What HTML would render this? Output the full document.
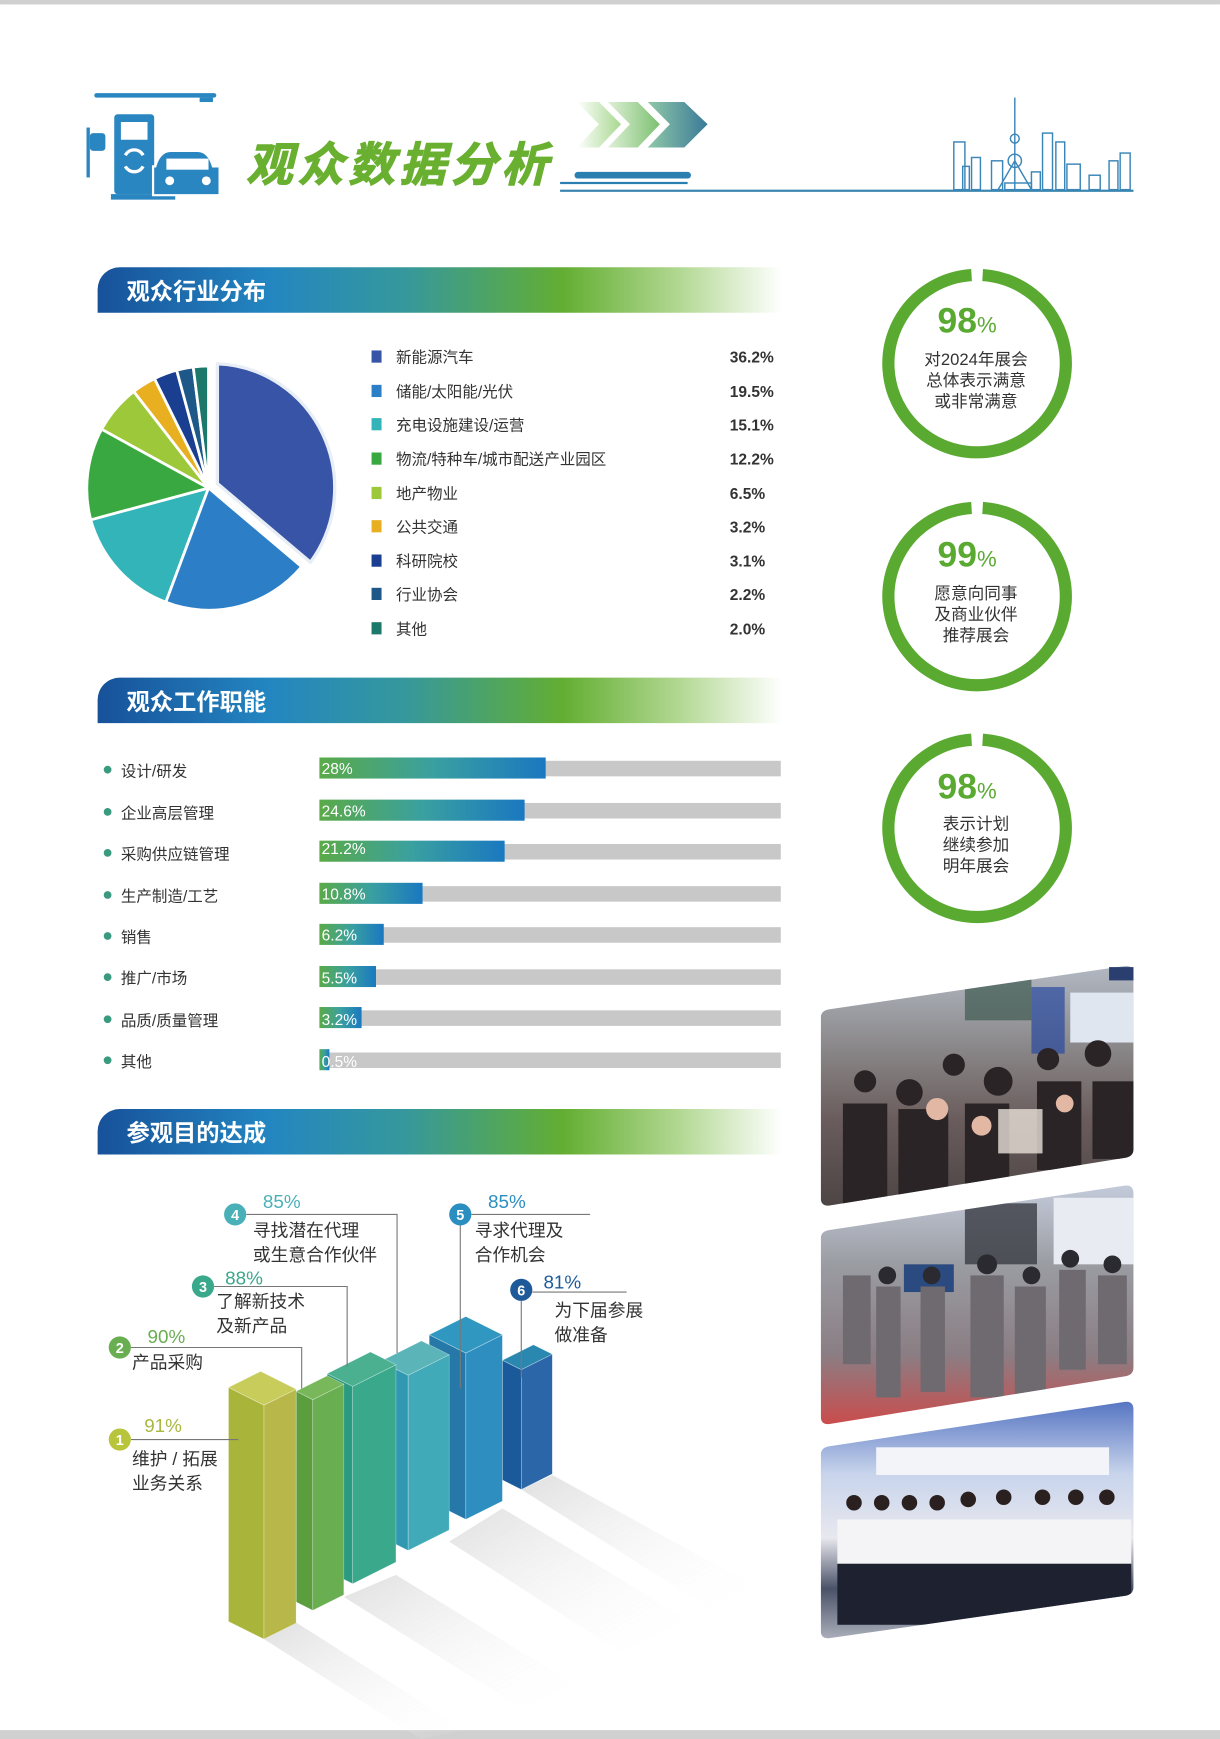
<!DOCTYPE html>
<html><head><meta charset="utf-8"><style>
html,body{margin:0;padding:0;background:#fff}
svg{display:block}
text{font-family:"Liberation Sans","Noto Sans CJK SC",sans-serif}
</style></head><body>
<svg width="1220" height="1739" viewBox="0 0 1100 1568" xmlns="http://www.w3.org/2000/svg">
<defs>
<linearGradient id="hdr" x1="0" x2="1" y1="0" y2="0">
<stop offset="0" stop-color="#17519a"/><stop offset="0.25" stop-color="#2386c0"/><stop offset="0.45" stop-color="#36989c"/><stop offset="0.68" stop-color="#63ae32"/><stop offset="0.85" stop-color="#b2d892"/><stop offset="1" stop-color="#fff"/>
</linearGradient>
<linearGradient id="bar" x1="0" x2="1" y1="0" y2="0">
<stop offset="0" stop-color="#5aaa48"/><stop offset="0.5" stop-color="#3aa0a0"/><stop offset="1" stop-color="#1a78c0"/>
</linearGradient>
<linearGradient id="chev1" x1="0" x2="1"><stop offset="0" stop-color="#fff"/><stop offset="1" stop-color="#a8d890"/></linearGradient>
<linearGradient id="chev2" x1="0" x2="1"><stop offset="0" stop-color="#e0f0d8"/><stop offset="1" stop-color="#7cc070"/></linearGradient>
<linearGradient id="chev3" x1="0" x2="1"><stop offset="0" stop-color="#90c8a8"/><stop offset="1" stop-color="#3a7a98"/></linearGradient>
<linearGradient id="p1" x1="0" x2="0" y1="0" y2="1"><stop offset="0" stop-color="#b8c0cc"/><stop offset="0.35" stop-color="#8c8a8c"/><stop offset="0.65" stop-color="#6a5c5c"/><stop offset="1" stop-color="#4c4444"/></linearGradient>
<linearGradient id="p2" x1="0" x2="0" y1="0" y2="1"><stop offset="0" stop-color="#c8d0e0"/><stop offset="0.35" stop-color="#9a9ca2"/><stop offset="0.7" stop-color="#8a7e84"/><stop offset="1" stop-color="#d04848"/></linearGradient>
<linearGradient id="p3" x1="0" x2="0" y1="0" y2="1"><stop offset="0" stop-color="#5070c0"/><stop offset="0.3" stop-color="#c8d4ec"/><stop offset="0.55" stop-color="#e8e8ee"/><stop offset="0.75" stop-color="#4a5268"/><stop offset="1" stop-color="#c4c8d0"/></linearGradient>
<linearGradient id="sh" x1="0" x2="1" y1="0" y2="1"><stop offset="0" stop-color="#d8d8d8"/><stop offset="1" stop-color="#fff" stop-opacity="0"/></linearGradient>
<clipPath id="c1"><path d="M748 910 L1014 871 Q1022 870 1022 878 V1036 Q1022 1043 1014 1044 L748 1087 Q740 1088 740 1080 V918 Q740 911 748 910Z"/></clipPath>
<clipPath id="c2"><path d="M748 1109 L1014 1069 Q1022 1068 1022 1076 V1233 Q1022 1240 1014 1241 L748 1284 Q740 1285 740 1277 V1117 Q740 1110 748 1109Z"/></clipPath>
<clipPath id="c3"><path d="M748 1304 L1014 1264 Q1022 1263 1022 1271 V1431 Q1022 1438 1014 1439 L748 1477 Q740 1478 740 1470 V1312 Q740 1305 748 1304Z"/></clipPath>
</defs>

<rect x="0" y="0" width="1100" height="4" fill="#d0d0d0"/>
<rect x="0" y="1560" width="1100" height="8" fill="#d0d0d0"/>

<!-- header icon -->
<rect x="85" y="84" width="110" height="4" rx="2" fill="#2a86c0"/>
<rect x="180" y="88" width="12" height="4" fill="#2a86c0"/>
<rect x="78" y="115" width="3" height="45" fill="#2a86c0"/>
<rect x="81" y="120" width="14" height="16" rx="3" fill="#2a86c0"/>
<rect x="103" y="103" width="36" height="72" rx="3" fill="#2a86c0"/>
<rect x="109" y="110" width="24" height="16" fill="#fff"/>
<path d="M113 140 a9 9 0 0 1 16 0 M129 150 a9 9 0 0 1 -16 0" stroke="#fff" stroke-width="3" fill="none"/>
<rect x="100" y="175" width="58" height="5" fill="#2a86c0"/>
<path d="M140 150 q4 -14 14 -14 h24 q10 0 14 14 h6 v26 h-60 v-26z" fill="#2a86c0" stroke="#fff" stroke-width="2"/>
<rect x="150" y="143" width="38" height="10" fill="#fff"/>
<circle cx="153" cy="163" r="4" fill="#fff"/><circle cx="186" cy="163" r="4" fill="#fff"/>

<text x="222" y="163" font-size="42" font-weight="bold" font-style="italic" fill="#6ab030" letter-spacing="4" stroke="#6ab030" stroke-width="1">观众数据分析</text>
<polygon points="520,92 540,92 560,112 540,133 520,133 540,112" fill="url(#chev1)"/>
<polygon points="548,92 575,92 595,112 575,133 548,133 568,112" fill="url(#chev2)"/>
<polygon points="584,92 617,92 638,112 617,133 584,133 604,112" fill="url(#chev3)"/>
<rect x="518" y="155" width="105" height="6" rx="3" fill="#2a7fb0"/>
<rect x="505" y="164" width="115" height="2" fill="#2a7fb0"/>
<rect x="505" y="171" width="517" height="2" fill="#3a86b0"/>
<g stroke="#3a86b8" fill="none" stroke-width="1.3">
<rect x="860" y="128" width="10" height="43"/><rect x="876" y="142" width="8" height="29"/><rect x="894" y="145" width="10" height="26"/>
<line x1="915" y1="88" x2="915" y2="171"/><circle cx="915" cy="125" r="4"/><circle cx="915" cy="145" r="6"/>
<polyline points="900,171 915,145 930,171"/><rect x="906" y="165" width="24" height="6"/>
<rect x="940" y="120" width="9" height="51"/><rect x="952" y="128" width="8" height="43"/><rect x="962" y="148" width="12" height="23"/>
<rect x="1000" y="145" width="8" height="26"/><rect x="1010" y="138" width="9" height="33"/>
<rect x="868" y="150" width="6" height="21"/><rect x="930" y="155" width="8" height="16"/><rect x="982" y="158" width="10" height="13"/>
</g>

<!-- section headers -->
<path d="M108 241 H705 V282 H88 V261 A20 20 0 0 1 108 241Z" fill="url(#hdr)"/>
<text x="114" y="270" font-size="21" font-weight="bold" fill="#fff">观众行业分布</text>
<path d="M108 611 H705 V652 H88 V631 A20 20 0 0 1 108 611Z" fill="url(#hdr)"/>
<text x="114" y="640" font-size="21" font-weight="bold" fill="#fff">观众工作职能</text>
<path d="M108 1000 H705 V1041 H88 V1020 A20 20 0 0 1 108 1000Z" fill="url(#hdr)"/>
<text x="114" y="1029" font-size="21" font-weight="bold" fill="#fff">参观目的达成</text>

<!-- pie -->
<g stroke="#fff" stroke-width="2.5" stroke-linejoin="round">
<path d="M188 440 L149.5 543 A110 112 0 0 1 81.8 468.7Z" fill="#32b4b8"/>
<path d="M188 440 L271.9 511 A110 112 0 0 1 149.5 543Z" fill="#2c7fc6"/>
<path d="M188 440 L81.8 468.7 A110 112 0 0 1 91.6 387Z" fill="#3aa840"/>
<path d="M188 440 L91.6 387 A110 112 0 0 1 120.6 353Z" fill="#9cc83a"/>
<path d="M188 440 L120.6 353 A110 112 0 0 1 139.3 341.4Z" fill="#e8b020"/>
<path d="M188 440 L139.3 341.4 A110 112 0 0 1 159.3 333.8Z" fill="#1a3e90"/>
<path d="M188 440 L159.3 333.8 A110 112 0 0 1 174.2 330.9Z" fill="#1d5888"/>
<path d="M188 440 L174.2 330.9 A110 112 0 0 1 188 330Z" fill="#1d786c"/>
<path d="M196 436 L196 328 A110 112 0 0 1 279.9 507Z" fill="#3854a6" stroke="#e8eef6" stroke-width="3"/>
</g>
<g font-size="14" fill="#333">
<rect x="335" y="316" width="9" height="11" fill="#3854a6"/><text x="357" y="327">新能源汽车</text>
<rect x="335" y="347" width="9" height="11" fill="#2c7fc6"/><text x="357" y="358">储能/太阳能/光伏</text>
<rect x="335" y="377" width="9" height="11" fill="#32b4b8"/><text x="357" y="388">充电设施建设/运营</text>
<rect x="335" y="408" width="9" height="11" fill="#3aa840"/><text x="357" y="419">物流/特种车/城市配送产业园区</text>
<rect x="335" y="439" width="9" height="11" fill="#9cc83a"/><text x="357" y="450">地产物业</text>
<rect x="335" y="469" width="9" height="11" fill="#e8b020"/><text x="357" y="480">公共交通</text>
<rect x="335" y="500" width="9" height="11" fill="#1a3e90"/><text x="357" y="511">科研院校</text>
<rect x="335" y="530" width="9" height="11" fill="#1d5888"/><text x="357" y="541">行业协会</text>
<rect x="335" y="561" width="9" height="11" fill="#1d786c"/><text x="357" y="572">其他</text>
</g>
<g font-size="14" fill="#333" font-weight="bold">
<text x="658" y="327">36.2%</text><text x="658" y="358">19.5%</text><text x="658" y="388">15.1%</text><text x="658" y="419">12.2%</text>
<text x="658" y="450">6.5%</text><text x="658" y="480">3.2%</text><text x="658" y="511">3.1%</text><text x="658" y="541">2.2%</text><text x="658" y="572">2.0%</text>
</g>

<!-- bars -->
<g font-size="14" fill="#333">
<g fill="#3a9a80"><circle cx="97" cy="694" r="3.5"/><circle cx="97" cy="732" r="3.5"/><circle cx="97" cy="769" r="3.5"/><circle cx="97" cy="807" r="3.5"/><circle cx="97" cy="844" r="3.5"/><circle cx="97" cy="881" r="3.5"/><circle cx="97" cy="919" r="3.5"/><circle cx="97" cy="956" r="3.5"/></g>
<text x="109" y="700">设计/研发</text><text x="109" y="738">企业高层管理</text><text x="109" y="775">采购供应链管理</text><text x="109" y="813">生产制造/工艺</text>
<text x="109" y="850">销售</text><text x="109" y="887">推广/市场</text><text x="109" y="925">品质/质量管理</text><text x="109" y="962">其他</text>
</g>
<g fill="#c8c8c8">
<rect x="288" y="686" width="416" height="14"/><rect x="288" y="724" width="416" height="14"/><rect x="288" y="761" width="416" height="14"/><rect x="288" y="799" width="416" height="14"/>
<rect x="288" y="836" width="416" height="14"/><rect x="288" y="874" width="416" height="14"/><rect x="288" y="911" width="416" height="14"/><rect x="288" y="949" width="416" height="14"/>
</g>
<g fill="url(#bar)">
<rect x="288" y="683" width="204" height="19"/><rect x="288" y="721" width="185" height="19"/><rect x="288" y="758" width="167" height="19"/><rect x="288" y="796" width="93" height="19"/>
<rect x="288" y="833" width="58" height="19"/><rect x="288" y="871" width="51" height="19"/><rect x="288" y="908" width="38" height="19"/><rect x="288" y="946" width="9" height="19"/>
</g>
<g font-size="14" fill="#fff">
<text x="290" y="698">28%</text><text x="290" y="736">24.6%</text><text x="290" y="770">21.2%</text><text x="290" y="811">10.8%</text>
<text x="290" y="848">6.2%</text><text x="290" y="887">5.5%</text><text x="290" y="924">3.2%</text><text x="290" y="962">0.5%</text>
</g>

<!-- circles -->
<g fill="none" stroke="#5aaa32" stroke-width="11">
<path d="M886 248 A80 80 0 1 1 876 248"/>
<path d="M886 458 A80 80 0 1 1 876 458"/>
<path d="M886 667 A80 80 0 1 1 876 667"/>
</g>
<g text-anchor="middle">
<text x="872" y="300" font-size="32" font-weight="bold" fill="#5aaa32">98<tspan font-size="20" font-weight="normal">%</tspan></text>
<text x="880" y="329" font-size="15" fill="#333">对2024年展会</text><text x="880" y="348" font-size="15" fill="#333">总体表示满意</text><text x="880" y="367" font-size="15" fill="#333">或非常满意</text>
<text x="872" y="511" font-size="32" font-weight="bold" fill="#5aaa32">99<tspan font-size="20" font-weight="normal">%</tspan></text>
<text x="880" y="540" font-size="15" fill="#333">愿意向同事</text><text x="880" y="559" font-size="15" fill="#333">及商业伙伴</text><text x="880" y="578" font-size="15" fill="#333">推荐展会</text>
<text x="872" y="720" font-size="32" font-weight="bold" fill="#5aaa32">98<tspan font-size="20" font-weight="normal">%</tspan></text>
<text x="880" y="748" font-size="15" fill="#333">表示计划</text><text x="880" y="767" font-size="15" fill="#333">继续参加</text><text x="880" y="786" font-size="15" fill="#333">明年展会</text>
</g>

<!-- photos -->
<g clip-path="url(#c1)">
<rect x="740" y="860" width="290" height="230" fill="url(#p1)"/>
<rect x="870" y="880" width="60" height="40" fill="#3e5a50" opacity="0.7"/>
<rect x="930" y="890" width="30" height="60" fill="#2a4aa0" opacity="0.7"/>
<rect x="965" y="895" width="57" height="45" fill="#dfe6f0"/>
<g fill="#2a2426">
<circle cx="780" cy="975" r="10"/><circle cx="820" cy="985" r="12"/><circle cx="860" cy="960" r="10"/><circle cx="900" cy="975" r="13"/><circle cx="945" cy="955" r="10"/><circle cx="990" cy="950" r="12"/>
<rect x="760" y="995" width="40" height="95"/><rect x="810" y="1000" width="45" height="90"/><rect x="870" y="995" width="40" height="90"/><rect x="935" y="975" width="40" height="80"/><rect x="985" y="975" width="37" height="70"/>
</g>
<g fill="#e2b8a4"><circle cx="845" cy="1000" r="10"/><circle cx="885" cy="1015" r="9"/><circle cx="960" cy="995" r="8"/></g>
<rect x="900" y="1000" width="40" height="40" fill="#e8e0d8" opacity="0.8"/>
</g>
<g clip-path="url(#c2)">
<rect x="740" y="1060" width="290" height="230" fill="url(#p2)"/>
<rect x="870" y="1085" width="65" height="55" fill="#3a3c44" opacity="0.8"/>
<rect x="950" y="1080" width="72" height="60" fill="#e8ecf2"/>
<rect x="815" y="1140" width="45" height="25" fill="#2a4a80"/>
<g fill="#6e6a70">
<rect x="760" y="1150" width="25" height="80"/><rect x="790" y="1160" width="22" height="100"/><rect x="830" y="1160" width="22" height="95"/><rect x="875" y="1150" width="30" height="110"/><rect x="915" y="1160" width="28" height="100"/><rect x="955" y="1145" width="24" height="90"/><rect x="990" y="1150" width="26" height="80"/>
</g>
<g fill="#2a2a30"><circle cx="800" cy="1150" r="8"/><circle cx="840" cy="1150" r="8"/><circle cx="890" cy="1140" r="9"/><circle cx="930" cy="1150" r="8"/><circle cx="965" cy="1135" r="8"/><circle cx="1003" cy="1140" r="8"/></g>
</g>
<g clip-path="url(#c3)">
<rect x="740" y="1260" width="290" height="230" fill="url(#p3)"/>
<rect x="790" y="1305" width="210" height="25" fill="#f2f4fa"/>
<g fill="#f4f4f6"><rect x="755" y="1370" width="265" height="40"/></g>
<g fill="#1e2230"><rect x="755" y="1410" width="265" height="55"/></g>
<g fill="#2a2020"><circle cx="770" cy="1355" r="7"/><circle cx="795" cy="1355" r="7"/><circle cx="820" cy="1355" r="7"/><circle cx="845" cy="1355" r="7"/><circle cx="873" cy="1352" r="7"/><circle cx="905" cy="1350" r="7"/><circle cx="940" cy="1350" r="7"/><circle cx="970" cy="1350" r="7"/><circle cx="998" cy="1350" r="7"/></g>
</g>
<rect x="1000" y="872" width="22" height="12" fill="#2a3e70"/>

<!-- 3D bar shadows -->
<g fill="url(#sh)" opacity="0.8">
<polygon points="238,1478 267,1463 420,1560 380,1568"/>
<polygon points="310,1440 357,1420 520,1520 470,1540"/>
<polygon points="405,1390 453,1360 620,1460 560,1490"/>
<polygon points="470,1343 498,1330 680,1430 640,1450"/>
</g>

<!-- 3D bars (right to left) -->
<g stroke="#fff" stroke-width="0.5" stroke-opacity="0.5">
<polygon points="453,1226.5 470,1235 470,1343 453,1334.5" fill="#1a5a9a"/><polygon points="470,1235 498,1221 498,1329 470,1343" fill="#2a66a8"/><polygon points="453,1226.5 470,1235 498,1221 481,1212.5" fill="#2a88b0"/>
<polygon points="387,1203.5 420,1220 420,1370 387,1353.5" fill="#2678a8"/><polygon points="420,1220 453,1203.5 453,1353.5 420,1370" fill="#2f8ec0"/><polygon points="387,1203.5 420,1220 453,1203.5 420,1187" fill="#3098c0"/>
<polygon points="343,1227.5 368,1240 368,1398 343,1385.5" fill="#3098b0"/><polygon points="368,1240 405,1221.5 405,1379.5 368,1398" fill="#40aab8"/><polygon points="343,1227.5 368,1240 405,1221.5 380,1209" fill="#5ab4b8"/>
<polygon points="295,1238.5 318,1250 318,1428 295,1416.5" fill="#2a9a80"/><polygon points="318,1250 357,1230.5 357,1408.5 318,1428" fill="#3aa88a"/><polygon points="295,1238.5 318,1250 357,1230.5 334,1219" fill="#4ab090"/>
<polygon points="267,1254.5 282,1262 282,1452 267,1444.5" fill="#5a9e3e"/><polygon points="282,1262 310,1248 310,1438 282,1452" fill="#6aae52"/><polygon points="267,1254.5 282,1262 310,1248 295,1240.5" fill="#78b85a"/>
<polygon points="206,1251 238,1267 238,1478 206,1462" fill="#a9b43a"/><polygon points="238,1267 267,1252.5 267,1463.5 238,1478" fill="#b8b84a"/><polygon points="206,1251 238,1267 267,1252.5 235,1236.5" fill="#c8cc5a"/>
</g>

<!-- leader lines -->
<g stroke="#777" stroke-width="1" fill="none">
<polyline points="118,1298 215,1298"/>
<polyline points="118,1215 272,1215 272,1252"/>
<polyline points="193,1160 313,1160 313,1232"/>
<polyline points="222,1095 358,1095 358,1220"/>
<polyline points="425,1095 532,1095"/><polyline points="415,1105 415,1252"/>
<polyline points="480,1165 565,1165"/><polyline points="470,1173 470,1242"/>
</g>
<g font-size="13" font-weight="bold" fill="#fff" text-anchor="middle">
<circle cx="108" cy="1298" r="10" fill="#b8c43a"/><text x="108" y="1303">1</text>
<circle cx="108" cy="1215" r="10" fill="#6aae52"/><text x="108" y="1220">2</text>
<circle cx="183" cy="1160" r="10" fill="#3aa88a"/><text x="183" y="1165">3</text>
<circle cx="212" cy="1095" r="10" fill="#4ab0b8"/><text x="212" y="1100">4</text>
<circle cx="415" cy="1095" r="10" fill="#2a8ec0"/><text x="415" y="1100">5</text>
<circle cx="470" cy="1163" r="10" fill="#1e5a9a"/><text x="470" y="1168">6</text>
</g>
<g font-size="17">
<text x="130" y="1291" fill="#a8b840">91%</text>
<text x="133" y="1211" fill="#6aae52">90%</text>
<text x="203" y="1158" fill="#3aa88a">88%</text>
<text x="237" y="1089" fill="#4ab0b8">85%</text>
<text x="440" y="1089" fill="#2a8ec0">85%</text>
<text x="490" y="1162" fill="#1e5a9a">81%</text>
</g>
<g font-size="16" fill="#333">
<text x="119" y="1321">维护 / 拓展</text><text x="119" y="1343">业务关系</text>
<text x="119" y="1234">产品采购</text>
<text x="195" y="1179">了解新技术</text><text x="195" y="1201">及新产品</text>
<text x="228" y="1115">寻找潜在代理</text><text x="228" y="1137">或生意合作伙伴</text>
<text x="428" y="1115">寻求代理及</text><text x="428" y="1137">合作机会</text>
<text x="500" y="1187">为下届参展</text><text x="500" y="1209">做准备</text>
</g>
</svg>
</body></html>
